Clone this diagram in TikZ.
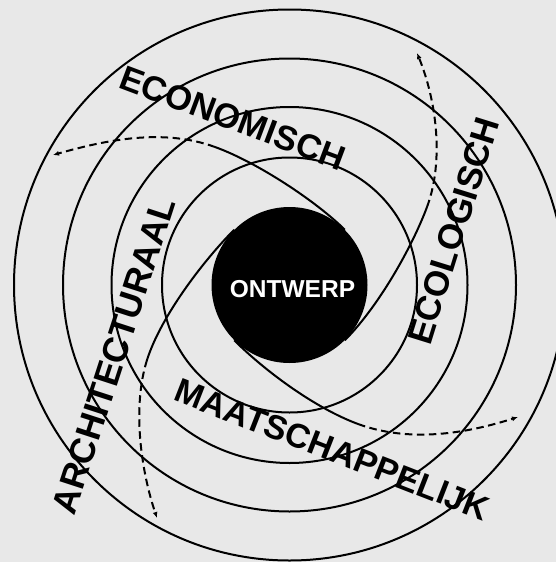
\documentclass[tikz,border=0pt]{standalone}
\usepackage{fontspec}
\setmainfont{Liberation Sans}
\usetikzlibrary{arrows.meta}
\definecolor{bggray}{RGB}{232,232,232}
\begin{document}
\begin{tikzpicture}[x=1pt,y=-1pt,
  ring/.style={draw=black, line width=2pt, circle, inner sep=0pt, fill=none},
  spiral/.style={draw=black, line width=2pt},
  dashpart/.style={draw=black, line width=2pt, dash pattern=on 7.5pt off 4.5pt, -{Latex[length=6pt,width=5pt]}},
  lbl/.style={inner sep=0pt, anchor=base},
  core/.style={circle, fill=black, minimum size=156pt, inner sep=0pt}]
\fill[bggray] (0,0) rectangle (556,562);
\useasboundingbox (0,0) rectangle (556,562);
\coordinate (c) at (289.5,285);
% rings
\node[ring, minimum size=255pt] (r1) at (c) {};
\node[ring, minimum size=356pt] (r2) at (c) {};
\node[ring, minimum size=453pt] (r3) at (c) {};
\node[ring, minimum size=551pt] (r4) at (c) {};
% core
\node[core] (core) at (c) {};
\node[text=white, font=\fontsize{24.5}{24.5}\selectfont\bfseries, inner sep=0pt] (ontwerp) at (292.5,289.5) {ONTWERP};
% spiral junctions and ends
\coordinate (a1) at (215,147);   \coordinate (a2) at (53,155);
\coordinate (b1) at (427,207);   \coordinate (b2) at (417,53);
\coordinate (c1) at (358,424);   \coordinate (c2) at (518,417);
\coordinate (d1) at (147,360);   \coordinate (d2) at (157,518);
% solid parts
\draw[spiral] (core.45) .. controls (316.3,201.4) and (257.3,162.3) .. (a1);
\draw[spiral] (core.-45) .. controls (380.2,304.7) and (413,244.6) .. (b1);
\draw[spiral] (core.-135) .. controls (266.3,372.2) and (315.7,408.3) .. (c1);
\draw[spiral] (core.135) .. controls (202.3,261.8) and (160.5,317.3) .. (d1);
% dashed parts
\draw[dashpart] (a1) .. controls (163,128) and (106,140) .. (a2);
\draw[dashpart] (b1) .. controls (444.5,160) and (436,99.5) .. (b2);
\draw[dashpart] (c1) .. controls (410,443) and (466,433.5) .. (c2);
\draw[dashpart] (d1) .. controls (132,407.5) and (141,470.5) .. (d2);
% labels
\node[lbl, rotate=-20.6, font=\fontsize{34.5}{34.5}\selectfont\bfseries] (econ) at (228.5,129) {ECONOMISCH};
\node[lbl, rotate=72.7, font=\fontsize{35}{35}\selectfont\bfseries] (ecol) at (465,234.5) {ECOLOGISCH};
\node[lbl, rotate=72, font=\fontsize{35.5}{35.5}\selectfont\bfseries] (arch) at (125.5,359.5) {ARCHITECTURAAL};
\node[lbl, rotate=-21.3, font=\fontsize{34}{34}\selectfont\bfseries] (maat) at (328,460.5) {MAATSCHAPPELIJK};
\end{tikzpicture}
\end{document}
